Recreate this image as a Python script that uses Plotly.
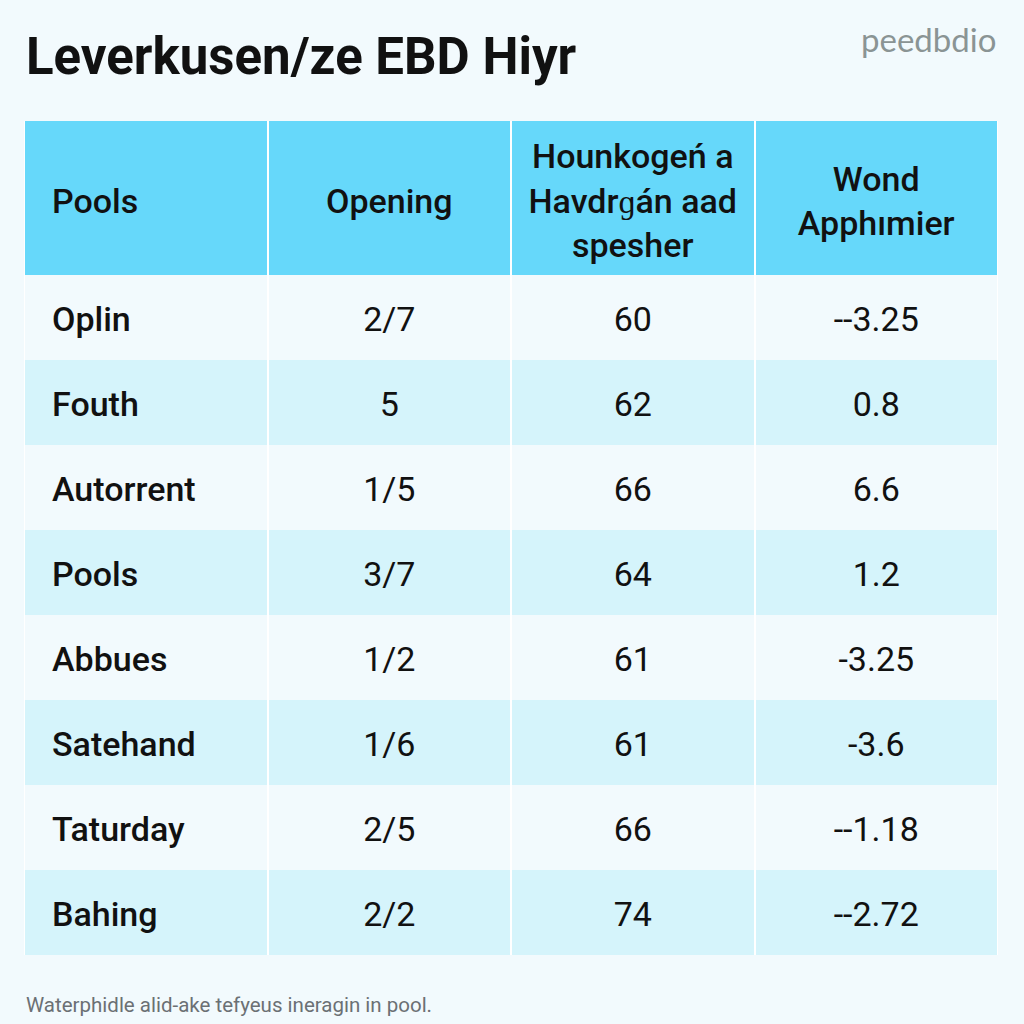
import plotly.graph_objects as go

# --- Datos de la tabla ---
titulo = 'Leverkusen/ze EBD Hiyr'
logo = 'peedbdio'
nota = 'Waterphidle alid-ake tefyeus ineragin in pool.'

encabezados = ['Pools', 'Opening', 'Hounkogeń a<br>Havdrɡán aad<br>spesher', 'Wond<br>Apphımier']
pools = ['Oplin', 'Fouth', 'Autorrent', 'Pools', 'Abbues', 'Satehand', 'Taturday', 'Bahing']
opening = ['2/7', '5', '1/5', '3/7', '1/2', '1/6', '2/5', '2/2']
hounkogen = [60, 62, 66, 64, 61, 61, 66, 74]
wond = ['--3.25', '0.8', '6.6', '1.2', '-3.25', '-3.6', '--1.18', '--2.72']

FONDO = '#F2FAFD'
CABECERA = '#66D8FA'
FILA_CLARA = '#F2FAFD'
FILA_AZUL = '#D5F4FB'
TEXTO = '#111111'

n_filas = len(pools)
n_cols = len(encabezados)
filas = list(range(n_filas))
cols = list(range(n_cols))

# margen izquierdo del texto de la primera columna (en unidades de columna)
x_izq = -0.5 + 28 / 243.5
# pequeño ajuste vertical para centrar el texto en la celda
dy = 0.06
filas_txt = [f + dy for f in filas]

fig = go.Figure()

# --- Fondo de celdas (filas alternas) ---
fig.add_trace(go.Heatmap(
    z=[[i % 2] * n_cols for i in filas], x=cols, y=filas,
    colorscale=[[0, FILA_CLARA], [1, FILA_AZUL]], zmin=0, zmax=1,
    showscale=False, xgap=2, ygap=0, hoverinfo='skip',
    xaxis='x', yaxis='y',
))
# --- Cabecera ---
fig.add_trace(go.Heatmap(
    z=[[1] * n_cols], x=cols, y=[0],
    colorscale=[[0, CABECERA], [1, CABECERA]], zmin=0, zmax=1,
    showscale=False, xgap=2, ygap=0, hoverinfo='skip',
    xaxis='x', yaxis='y2',
))

fuente_cab = dict(family='Roboto', size=34, color=TEXTO, weight=500)
fig.add_trace(go.Scatter(
    x=[x_izq], y=[0.04], text=[encabezados[0]], mode='text',
    textposition='middle right', textfont=fuente_cab,
    hoverinfo='skip', showlegend=False, xaxis='x', yaxis='y2',
))
fig.add_trace(go.Scatter(
    x=cols[1:], y=[0.04] * (n_cols - 1), text=encabezados[1:], mode='text',
    textposition='middle center', textfont=fuente_cab,
    hoverinfo='skip', showlegend=False, xaxis='x', yaxis='y2',
))

# --- Texto de las celdas ---
fig.add_trace(go.Scatter(
    x=[x_izq] * n_filas, y=filas_txt, text=pools, mode='text',
    textposition='middle right',
    textfont=dict(family='Roboto', size=34, color=TEXTO, weight=500),
    hoverinfo='skip', showlegend=False,
))
for j, valores in zip([1, 2, 3], [opening, hounkogen, wond]):
    fig.add_trace(go.Scatter(
        x=[j] * n_filas, y=filas_txt, text=[str(v) for v in valores], mode='text',
        textposition='middle center',
        textfont=dict(family='Roboto', size=34, color=TEXTO),
        hoverinfo='skip', showlegend=False,
    ))

# --- Textos sueltos ---
fig.add_annotation(text=f'<b>{titulo}</b>', x=24/1024, y=1 - 56/1024, xref='paper', yref='paper',
                   xanchor='left', yanchor='middle', showarrow=False,
                   font=dict(family='Roboto', size=51, color=TEXTO))
fig.add_annotation(text=logo, x=998/1024, y=1 - 39/1024, xref='paper', yref='paper',
                   xanchor='right', yanchor='middle', showarrow=False,
                   font=dict(family='Lato', size=33, color='#8A9494'))
fig.add_annotation(text=nota, x=24/1024, y=1 - 1005/1024, xref='paper', yref='paper',
                   xanchor='left', yanchor='middle', showarrow=False,
                   font=dict(family='Roboto', size=20.5, color='#6B7074'))

ejes = dict(showgrid=False, zeroline=False, showticklabels=False, ticks='', fixedrange=True)
fig.update_layout(
    width=1024, height=1024,
    margin=dict(l=0, r=0, t=0, b=0),
    paper_bgcolor=FONDO,
    plot_bgcolor='white',
    showlegend=False,
    xaxis=dict(domain=[24/1024, 998/1024], range=[-0.5, n_cols - 0.5], **ejes),
    yaxis=dict(domain=[1 - 955/1024, 1 - 275/1024], range=[n_filas - 0.5, -0.5], **ejes),
    yaxis2=dict(domain=[1 - 275/1024, 1 - 121/1024], range=[0.5, -0.5], anchor='x', **ejes),
)

fig.write_html('out.html', config={'displayModeBar': False},
               post_script="document.body.style.margin='0';document.body.style.background='%s';" % FONDO)
